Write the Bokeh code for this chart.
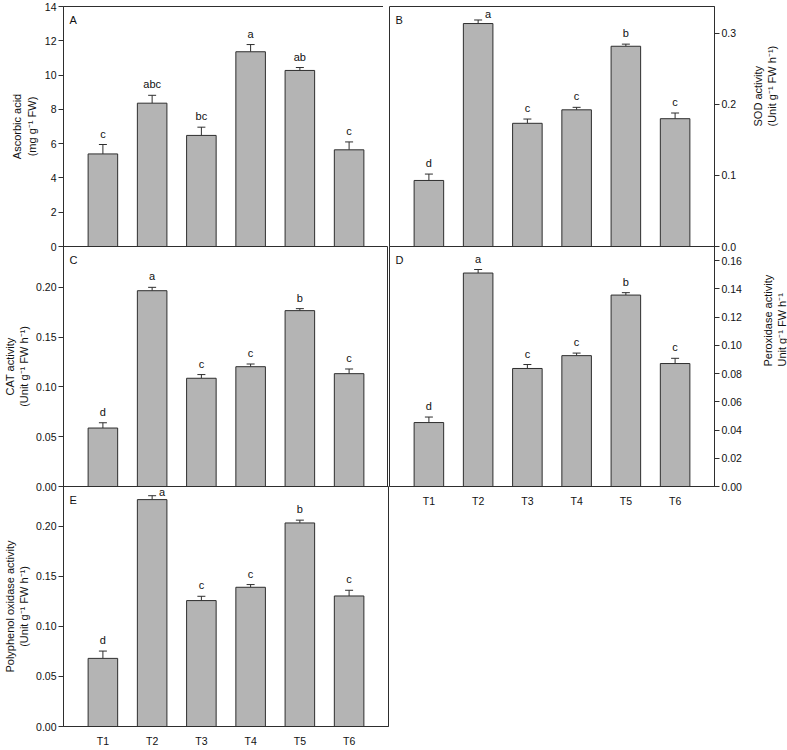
import math
from bokeh.plotting import figure
from bokeh.layouts import row, column
from bokeh.models import ColumnDataSource, Whisker, TeeHead, FixedTicker, Range1d, NumeralTickFormatter
from bokeh.core.properties import value
from bokeh.embed import file_html
from bokeh.resources import INLINE

# ---------------- data ----------------
categories = ["T1", "T2", "T3", "T4", "T5", "T6"]

ascorbic = [5.40, 8.36, 6.48, 11.36, 10.27, 5.64]
ascorbic_err = [0.55, 0.46, 0.48, 0.42, 0.17, 0.46]
ascorbic_letters = ["c", "abc", "bc", "a", "ab", "c"]

sod = [0.093, 0.314, 0.1735, 0.1925, 0.282, 0.180]
sod_err = [0.009, 0.005, 0.006, 0.0035, 0.003, 0.008]
sod_letters = ["d", "a", "c", "c", "b", "c"]

cat = [0.0587, 0.1966, 0.1087, 0.1203, 0.1766, 0.1133]
cat_err = [0.0053, 0.0034, 0.0037, 0.0027, 0.0020, 0.0047]
cat_letters = ["d", "a", "c", "c", "b", "c"]

pod = [0.0453, 0.1512, 0.0836, 0.0927, 0.1356, 0.0871]
pod_err = [0.0039, 0.0025, 0.0028, 0.0018, 0.0017, 0.0037]
pod_letters = ["d", "a", "c", "c", "b", "c"]

ppo = [0.068, 0.2265, 0.1257, 0.1390, 0.2032, 0.1303]
ppo_err = [0.0073, 0.0039, 0.0043, 0.0027, 0.0028, 0.0057]
ppo_letters = ["d", "a", "c", "c", "b", "c"]

# ---------------- style ----------------
FONT = "Liberation Sans"
BAR_FILL = "#b4b4b4"
EDGE = "#2e2e2e"
FRAME_W = 325
FRAME_H = 240
OVERLAP = 7          # room for the tick label sitting on a shared frame edge
X_START, X_END = 0.2, 6.8
# letters that sit beside the error bar (panel, category) -> (dx, dy) in px
letter_shift = {("B", "T2"): (10, 5), ("E", "T2"): (10, 7)}


def make_panel(tag, vals, errs, letters, ymax, ticks, fmt, ylabel, side,
               show_x, borders, label_standoff, pull_up):
    top_b, right_b, bottom_b, left_b = borders
    p = figure(frame_width=FRAME_W, frame_height=FRAME_H,
               x_range=Range1d(X_START, X_END), y_range=Range1d(0, ymax),
               output_backend="svg", toolbar_location=None,
               x_axis_location="below" if show_x else None,
               y_axis_location=side,
               min_border_top=top_b, min_border_right=right_b,
               min_border_bottom=bottom_b, min_border_left=left_b)
    p.background_fill_color = None
    p.border_fill_color = None
    p.outline_line_color = EDGE
    p.outline_line_width = 1
    p.xgrid.visible = False
    p.ygrid.visible = False
    if pull_up:
        p.margin = (-OVERLAP, 0, 0, 0)

    xs = [i + 1 for i in range(len(categories))]
    dx = []
    dy = []
    for c in categories:
        sx, sy = letter_shift.get((tag, c), (0, 0))
        dx.append(sx)
        dy.append(-5 + sy)
    src = ColumnDataSource(dict(
        x=xs, cat=categories, val=vals,
        upper=[v + e for v, e in zip(vals, errs)],
        letter=letters, dx=dx, dy=dy))

    p.vbar(x="x", top="val", bottom=0, width=0.6, source=src,
           fill_color=BAR_FILL, line_color=EDGE, line_width=1)
    wh = Whisker(source=src, base="x", lower="val", upper="upper",
                 dimension="height", line_color=EDGE, line_width=1,
                 lower_head=None,
                 upper_head=TeeHead(size=8, line_color=EDGE, line_width=1))
    p.add_layout(wh)
    p.text(x="x", y="upper", text="letter", source=src,
           x_offset="dx", y_offset="dy",
           text_align="center", text_baseline="bottom",
           text_font=value(FONT), text_font_size="11px", text_color="#111111")
    # panel tag
    p.text(x=[X_START], y=[ymax], text=[tag], x_offset=6, y_offset=7,
           text_align="left", text_baseline="top",
           text_font=value(FONT), text_font_size="11px", text_color="#111111")

    ya = p.yaxis[0]
    ya.ticker = FixedTicker(ticks=ticks)
    ya.formatter = NumeralTickFormatter(format=fmt)
    ya.major_tick_out = 5
    ya.major_tick_in = 0
    ya.minor_tick_line_color = None
    ya.major_tick_line_color = EDGE
    ya.axis_line_color = EDGE
    ya.major_label_standoff = 2
    ya.major_label_text_font = FONT
    ya.major_label_text_font_size = "10.5px"
    ya.major_label_text_color = "#111111"
    ya.axis_label = ylabel
    ya.axis_label_text_font = FONT
    ya.axis_label_text_font_size = "11px"
    ya.axis_label_text_font_style = "normal"
    ya.axis_label_text_color = "#111111"
    ya.axis_label_standoff = label_standoff
    if side == "right":
        ya.axis_label_orientation = math.pi / 2

    if show_x:
        xa = p.xaxis[0]
        xa.ticker = FixedTicker(ticks=xs)
        xa.major_label_overrides = {x: c for x, c in zip(xs, categories)}
        xa.major_tick_line_color = None
        xa.minor_tick_line_color = None
        xa.axis_line_color = EDGE
        xa.major_label_standoff = 2
        xa.major_label_text_font = FONT
        xa.major_label_text_font_size = "10.5px"
        xa.major_label_text_color = "#111111"
    return p


pA = make_panel("A", ascorbic, ascorbic_err, ascorbic_letters, 14,
                [0, 2, 4, 6, 8, 10, 12, 14], "0",
                "Ascorbic acid\n(mg g\u207b\u00b9 FW)", "left", False,
                (6, 0, OVERLAP, 58), 4, False)
pC = make_panel("C", cat, cat_err, cat_letters, 0.241,
                [0, 0.05, 0.10, 0.15, 0.20], "0.00",
                "CAT activity\n(Unit g\u207b\u00b9 FW h\u207b\u00b9)", "left", False,
                (0, 0, OVERLAP, 58), 3, True)
pE = make_panel("E", ppo, ppo_err, ppo_letters, 0.2396,
                [0, 0.05, 0.10, 0.15, 0.20], "0.00",
                "Polyphenol oxidase activity\n(Unit g\u207b\u00b9 FW h\u207b\u00b9)", "left", True,
                (0, 1, 14, 58), 3, True)
pB = make_panel("B", sod, sod_err, sod_letters, 0.338,
                [0, 0.1, 0.2, 0.3], "0.0",
                "SOD activity\n(Unit g\u207b\u00b9 FW h\u207b\u00b9)", "right", False,
                (6, 66, OVERLAP, 0), 26, False)
pD = make_panel("D", pod, pod_err, pod_letters, 0.170,
                [0, 0.02, 0.04, 0.06, 0.08, 0.10, 0.12, 0.14, 0.16], "0.00",
                "Peroxidase activity\nUnit g\u207b\u00b9 FW h\u207b\u00b9", "right", True,
                (0, 66, 15, 0), 30, True)

layout = row(column(pA, pC, pE), column(pB, pD))

open("out.html", "w").write(file_html(layout, INLINE))
